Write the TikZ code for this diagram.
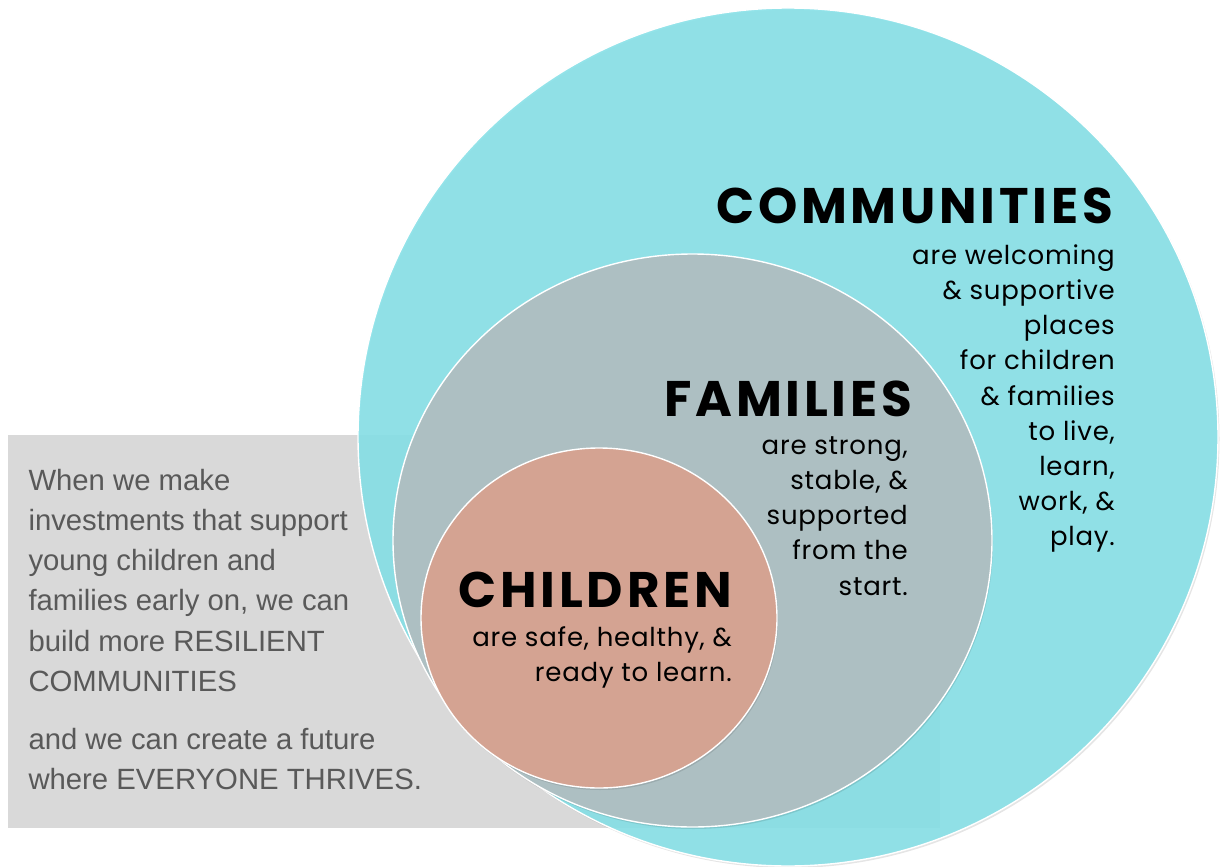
\documentclass[tikz,border=0pt]{standalone}
\usepackage{fontspec}
\setmainfont{Liberation Sans}
\newfontfamily\headfont{Poppins}[LetterSpace=7.5]
\newfontfamily\bodyfont{Poppins}[LetterSpace=3]
\definecolor{commblue}{RGB}{135,224,231}
\definecolor{famgray}{RGB}{173,191,194}
\definecolor{childpink}{RGB}{212,163,146}
\definecolor{boxgray}{RGB}{217,217,217}
\definecolor{boxtext}{RGB}{89,89,89}
\tikzset{
  shadowfill/.style={fill=black, opacity=0.10},
  ring/.style={draw=white, line width=1.4pt},
  headtext/.style={inner sep=0pt, anchor=base east, font=\headfont\bfseries\fontsize{50}{50}\selectfont, text=black},
  bodytext/.style={inner sep=0pt, anchor=base east, font=\bodyfont\fontsize{26}{30}\selectfont, text=black},
  boxline/.style={inner sep=0pt, anchor=base west, font=\fontsize{29.3}{34}\selectfont, text=boxtext},
}
\begin{document}
\begin{tikzpicture}[x=1pt,y=-1pt]
\useasboundingbox (0,0) rectangle (1221,867);
% grey text panel
\fill[boxgray] (8,435) rectangle (940,828);
% communities circle
\fill[shadowfill] (789.5,439) ellipse [x radius=430, y radius=429];
\fill[commblue, fill opacity=0.9] (788,437) ellipse [x radius=430, y radius=429];
\draw[ring] (788,437) ellipse [x radius=430, y radius=429];
% families circle
\fill[shadowfill] (693.5,542.5) ellipse [x radius=299.5, y radius=286.5];
\fill[famgray] (692.5,540.5) ellipse [x radius=299.5, y radius=286.5];
\draw[ring] (692.5,540.5) ellipse [x radius=299.5, y radius=286.5];
% children circle
\fill[shadowfill] (600,620) ellipse [x radius=178, y radius=170];
\fill[childpink] (599,618) ellipse [x radius=178, y radius=170];
\draw[ring] (599,618) ellipse [x radius=178, y radius=170];
% headings
\node[headtext] (commhead) at (1113,223) {COMMUNITIES};
\node[headtext] (famhead) at (912,416) {FAMILIES};
\node[headtext] (childhead) at (732,607) {CHILDREN};
% communities text
\foreach \t [count=\i] in {are welcoming, \& supportive, places, for children, \& families, {to live,}, {learn,}, {work, \&}, play.}
  \node[bodytext] (comm\i) at (1115,{264.3+35.2*(\i-1)}) {\t};
% families text
\foreach \t [count=\i] in {{are strong,}, {stable, \&}, supported, from the, start.}
  \node[bodytext] (fam\i) at (908,{454.3+35.2*(\i-1)}) {\t};
% children text
\node[bodytext] (child1) at (732,646) {are safe, healthy, \&};
\node[bodytext] (child2) at (732,681) {ready to learn.};
% panel text
\foreach \t [count=\i] in {When we make, investments that support, young children and, {families early on, we can}, build more RESILIENT, COMMUNITIES}
  \node[boxline] (box\i) at (28.3,{490+40.3*(\i-1)}) {\t};
\node[boxline] (box7) at (28.3,749.3) {and we can create a future};
\node[boxline] (box8) at (28.3,789.3) {where EVERYONE THRIVES.};
\end{tikzpicture}
\end{document}
